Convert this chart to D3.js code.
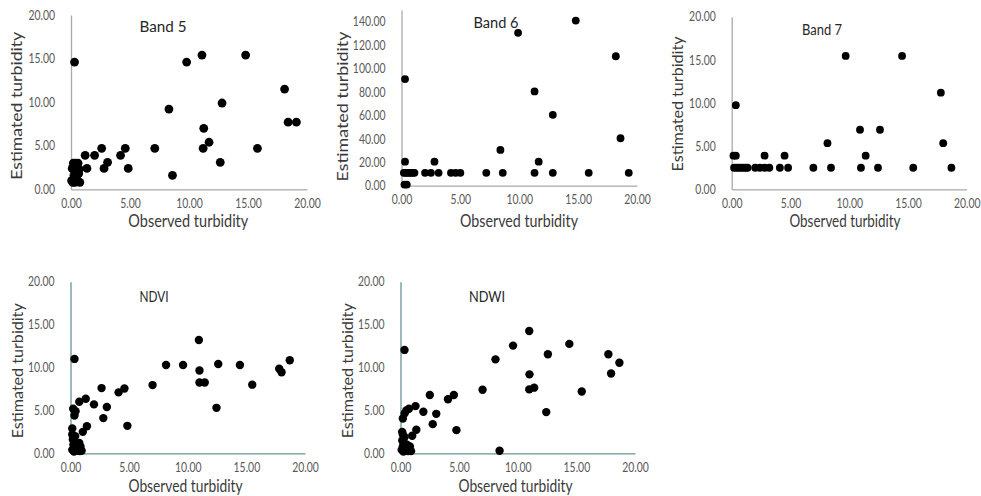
<!DOCTYPE html>
<html><head><meta charset="utf-8">
<script src="https://cdn.jsdelivr.net/npm/d3@7"></script>
<style>body{margin:0;background:#fff}svg{display:block}</style>
</head><body>
<svg id="chart" width="981" height="496"></svg>
<script>
// ---------------- data ----------------
const xTicks = [0, 5, 10, 15, 20];
const yTicks20 = [0, 5, 10, 15, 20];
const yTicks140 = [0, 20, 40, 60, 80, 100, 120, 140];
const panelTitles = ["Band 5", "Band 6", "Band 7", "NDVI", "NDWI"];
const xTitle = "Observed turbidity";
const yTitle = "Estimated turbidity";

const band5Obs = [0.05,0.1,0.15,0.2,0.25,0.3,0.35,0.4,0.45,0.5,0.55,0.6,0.65,0.7,0.75,0.4,
  0.3,1.2,1.35,2.0,2.6,2.8,3.1,4.2,4.6,4.85,7.1,8.3,8.6,9.8,11.1,11.2,11.25,11.7,12.65,12.8,14.8,15.8,18.1,18.4,19.1];
const band5Est = [1.0,2.4,0.8,3.0,1.6,2.2,0.8,3.0,1.3,2.6,1.0,3.0,1.8,2.3,0.8,1.9,
  14.6,3.9,2.4,3.9,4.7,2.4,3.1,3.9,4.7,2.4,4.7,9.2,1.6,14.6,15.4,4.7,7.0,5.4,3.1,9.9,15.4,4.7,11.5,7.7,7.7];

const band6Obs = [0.2,0.35,0.5,0.65,0.8,0.95,1.1,2.0,2.5,3.15,4.2,4.6,5.0,7.2,8.6,11.3,12.85,15.9,19.3,
  0.3,0.3,2.8,8.4,9.9,11.3,11.65,12.85,14.8,18.2,18.6,0.25,0.45];
const band6Est = [11,11,11,11,11,11,11,11,11,11,11,11,11,11,11,11,11,11,11,
  91,20.5,20.5,30.5,130.5,80.5,20.5,60.5,141,110.5,40.5,1,1];

const band7Obs = [0.2,0.4,0.6,0.8,1.0,1.2,1.35,2.0,2.4,2.8,3.2,4.1,4.8,6.95,8.45,11.0,12.45,15.45,18.7,
  0.15,0.35,2.8,4.5,11.4,0.35,8.15,9.7,10.92,12.62,14.5,17.8,18.0];
const band7Est = [2.5,2.5,2.5,2.5,2.5,2.5,2.5,2.5,2.5,2.5,2.5,2.5,2.5,2.5,2.5,2.5,2.5,2.5,2.5,
  3.9,3.9,3.9,3.9,3.9,9.75,5.35,15.45,6.9,6.9,15.45,11.2,5.35];

const ndviObs = [0.34,0.23,0.43,0.34,0.75,1.3,2.0,2.65,3.1,2.8,4.1,4.6,4.85,1.4,1.05,0.15,
  7.0,8.15,9.6,10.95,11.0,11.0,11.45,12.6,12.45,14.45,15.5,17.8,18.0,18.7,
  0.15,0.2,0.25,0.15,0.3,0.35,0.45,0.55,0.65,0.75,0.85,0.95,0.8,0.4];
const ndviEst = [11.0,5.2,4.9,4.4,6.0,6.35,5.7,7.6,5.4,4.1,7.1,7.55,3.2,3.15,2.5,2.9,
  7.95,10.3,10.3,13.2,9.65,8.25,8.25,10.4,5.3,10.3,8.0,9.85,9.45,10.85,
  2.2,1.6,1.0,0.4,0.2,1.3,0.7,1.0,0.3,1.2,0.8,0.3,0.25,2.0];

const ndwiObs = [0.34,0.2,0.35,0.5,0.72,1.28,1.95,2.5,3.05,2.75,4.05,4.55,4.77,1.35,1.0,0.14,
  7.0,8.1,8.45,9.6,10.98,11.0,10.98,11.4,12.57,12.43,14.4,15.46,17.73,17.96,18.67,
  0.15,0.2,0.25,0.3,0.45,0.55,0.65,0.8,0.9,0.35,0.2,0.1];
const ndwiEst = [12.05,4.05,4.65,5.0,5.2,5.5,4.85,6.8,4.6,3.4,6.3,6.8,2.7,2.75,2.05,2.5,
  7.4,10.95,0.3,12.55,14.25,9.2,7.45,7.65,11.55,4.8,12.75,7.2,11.55,9.3,10.55,
  1.5,0.8,0.2,1.2,0.5,1.0,0.25,0.8,0.25,1.9,2.2,0.4];

// ---------------- layout ----------------
const layout = [
  {obs: band5Obs, est: band5Est, yTicks: yTicks20, yAxisMax: 20, yTickMax: 20,
   x0: 71, x1: 307, y0: 189.3, yT: 15, axisColor: "#a9a9a9", r: 4.4,
   titleX: 163, titleY: 31.5, titleLen: 47, xtX: 188.3, xtY: 227.3, xtLen: 120,
   ytX: 22, ytY: 105.8, ytLen: 148},
  {obs: band6Obs, est: band6Est, yTicks: yTicks140, yAxisMax: 150, yTickMax: 140,
   x0: 401.5, x1: 637, y0: 185.7, yT: 21.7, axisColor: "#a9a9a9", r: 3.9,
   titleX: 496, titleY: 28.3, titleLen: 45, xtX: 519, xtY: 226.5, xtLen: 118,
   ytX: 348, ytY: 106.5, ytLen: 150},
  {obs: band7Obs, est: band7Est, yTicks: yTicks20, yAxisMax: 20, yTickMax: 20,
   x0: 731.7, x1: 966.7, y0: 189.3, yT: 16.7, axisColor: "#a9a9a9", r: 3.9,
   titleX: 822, titleY: 35, titleLen: 40, xtX: 845, xtY: 227, xtLen: 111,
   ytX: 682.5, ytY: 104, ytLen: 135},
  {obs: ndviObs, est: ndviEst, yTicks: yTicks20, yAxisMax: 20, yTickMax: 20,
   x0: 70.5, x1: 305, y0: 453.3, yT: 281.7, axisColor: "#6a9494", r: 4.2,
   titleX: 154, titleY: 302, titleLen: 29, xtX: 185.5, xtY: 491.5, xtLen: 114,
   ytX: 22.5, ytY: 370.8, ytLen: 135},
  {obs: ndwiObs, est: ndwiEst, yTicks: yTicks20, yAxisMax: 20, yTickMax: 20,
   x0: 400.5, x1: 635, y0: 453.3, yT: 281.7, axisColor: "#6a9494", r: 4.2,
   titleX: 487, titleY: 302, titleLen: 36, xtX: 515.5, xtY: 491.5, xtLen: 114,
   ytX: 352.5, ytY: 370.8, ytLen: 135}
];

const FONT = "Lato, 'Liberation Sans', Arial, sans-serif";
const svg = d3.select("#chart");
const fmt = d3.format(".2f");

function condense(sel, f) {
  sel.each(function () {
    const w = this.getComputedTextLength();
    d3.select(this).attr("textLength", w * f).attr("lengthAdjust", "spacingAndGlyphs");
  });
}

layout.forEach((p, i) => {
  const x = d3.scaleLinear().domain([0, 20]).range([p.x0, p.x1]);
  const perUnit = (p.y0 - p.yT) / p.yTickMax;
  const y = d3.scaleLinear().domain([0, p.yAxisMax]).range([p.y0, p.y0 - perUnit * p.yAxisMax]);
  const g = svg.append("g");

  // x axis
  const xa = g.append("g").attr("transform", `translate(0,${p.y0})`)
    .call(d3.axisBottom(x).tickValues(xTicks).tickFormat(fmt).tickSize(0).tickSizeOuter(0).tickPadding(9));
  // y axis
  const ya = g.append("g").attr("transform", `translate(${p.x0},0)`)
    .call(d3.axisLeft(y).tickValues(p.yTicks).tickFormat(fmt).tickSize(0).tickSizeOuter(0).tickPadding(16));
  [xa, ya].forEach(a => {
    a.select(".domain").attr("stroke", p.axisColor).attr("stroke-width", 1.3);
    a.selectAll("text").attr("font-family", FONT).attr("font-size", 13).attr("fill", "#595959");
    condense(a.selectAll("text"), 0.8);
  });

  // points
  const pts = p.obs.map((v, k) => ({o: v, e: p.est[k]}));
  g.append("g").selectAll("circle").data(pts).join("circle")
    .attr("cx", d => x(d.o)).attr("cy", d => y(d.e)).attr("r", p.r).attr("fill", "#000");

  // panel title
  g.append("text").attr("x", p.titleX).attr("y", p.titleY).attr("text-anchor", "middle")
    .attr("font-family", FONT).attr("font-size", 15.5).attr("fill", "#262626")
    .attr("textLength", p.titleLen).attr("lengthAdjust", "spacingAndGlyphs")
    .text(panelTitles[i]);

  // x title
  g.append("text").attr("x", p.xtX).attr("y", p.xtY).attr("text-anchor", "middle")
    .attr("font-family", FONT).attr("font-size", 18).attr("fill", "#3a3a3a")
    .attr("textLength", p.xtLen).attr("lengthAdjust", "spacingAndGlyphs")
    .text(xTitle);

  // y title
  g.append("text").attr("transform", `translate(${p.ytX},${p.ytY}) rotate(-90)`)
    .attr("text-anchor", "middle")
    .attr("font-family", FONT).attr("font-size", 15.5).attr("fill", "#3a3a3a")
    .attr("textLength", p.ytLen).attr("lengthAdjust", "spacingAndGlyphs")
    .text(yTitle);
});
</script>
</body></html>
